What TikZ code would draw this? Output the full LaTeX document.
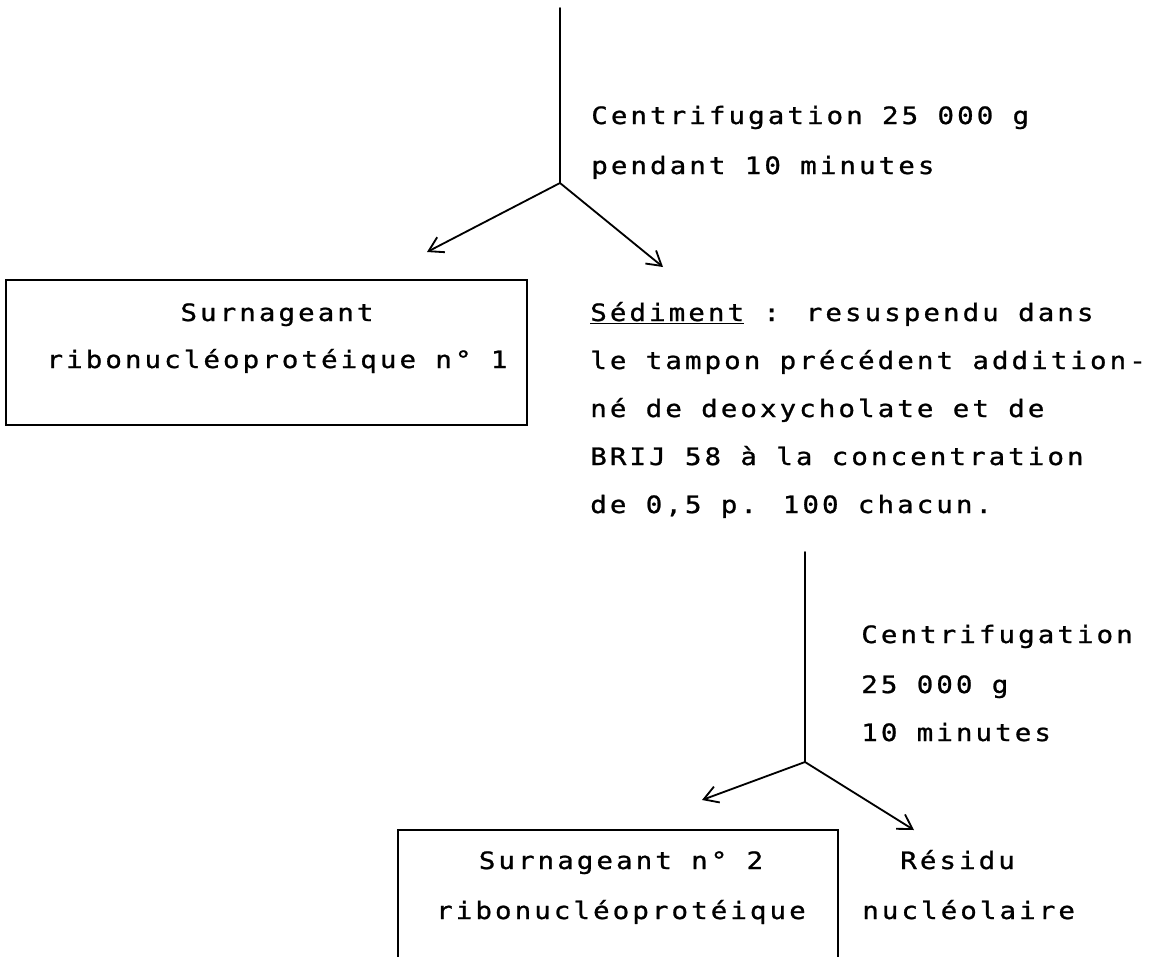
\documentclass[tikz,border=0pt]{standalone}
\usepackage{fontspec}
% typewriter-like face: widened glyphs on a wide fixed pitch
\newfontfamily\tw[FakeStretch=1.15,FakeBold=1,LetterSpace=12.8]{DejaVu Sans Mono}
\newcommand\twtext{\tw\fontsize{17}{28}\selectfont\spaceskip=13.73pt\relax}
\usetikzlibrary{arrows.meta}
\begin{document}
\begin{tikzpicture}[x=0.025cm, y=-0.025cm,
  txt/.style={font=\twtext, inner sep=0pt, anchor=base west},
  ctxt/.style={txt, anchor=base},
  link/.style={line width=1.3pt, line cap=round},
  arr/.style={link, -{Straight Barb[length=10pt,width=12pt,line width=1.3pt]}},
  panel/.style={draw, line width=1.4pt, inner sep=0pt}]
\clip (0,0) rectangle (1158,956);
\fill[white] (0,0) rectangle (1158,956);

% first centrifugation
\coordinate (in1) at (560,8);
\coordinate (j1) at (560,183);
\coordinate (t1l) at (427,252);
\coordinate (t1r) at (663,267);
\draw[link] (in1) -- (j1);
\draw[arr] (j1) -- (t1l);
\draw[arr] (j1) -- (t1r);
\node[txt] (c1a) at (591,124) {Centrifugation 25 000 g};
\node[txt] (c1b) at (591,174) {pendant 10 minutes};

% first supernatant
\node[panel, minimum width=13.025cm, minimum height=3.625cm] (box1) at (266.5,352.5) {};
\node[ctxt] (b1a) at (277,321) {Surnageant};
\node[ctxt] (b1b) at (277,368) {ribonucléoprotéique n° 1};

% pellet treatment
\node[txt] (s1) at (590,321) {\underline{Sédiment} : resuspendu dans};
\node[txt] (s2) at (590,369) {le tampon précédent addition-};
\node[txt] (s3) at (590,417) {né de deoxycholate et de};
\node[txt] (s4) at (590,465) {BRIJ 58 à la concentration};
\node[txt] (s5) at (590,513) {de 0,5 p. 100 chacun.};

% second centrifugation
\coordinate (in2) at (805,552);
\coordinate (j2) at (805,762);
\coordinate (t2l) at (702,800);
\coordinate (t2r) at (914,830);
\draw[link] (in2) -- (j2);
\draw[arr] (j2) -- (t2l);
\draw[arr] (j2) -- (t2r);
\node[txt] (c2a) at (861,643) {Centrifugation};
\node[txt] (c2b) at (861,693) {25 000 g};
\node[txt] (c2c) at (861,741) {10 minutes};

% second supernatant and residue
\node[panel, minimum width=11cm, minimum height=4.25cm] (box2) at (618,915) {};
\node[ctxt] (b2a) at (621,869) {Surnageant n° 2};
\node[ctxt] (b2b) at (621,919) {ribonucléoprotéique};
\node[txt] (r1) at (900,869) {Résidu};
\node[txt] (r2) at (862,919) {nucléolaire};
\end{tikzpicture}
\end{document}
